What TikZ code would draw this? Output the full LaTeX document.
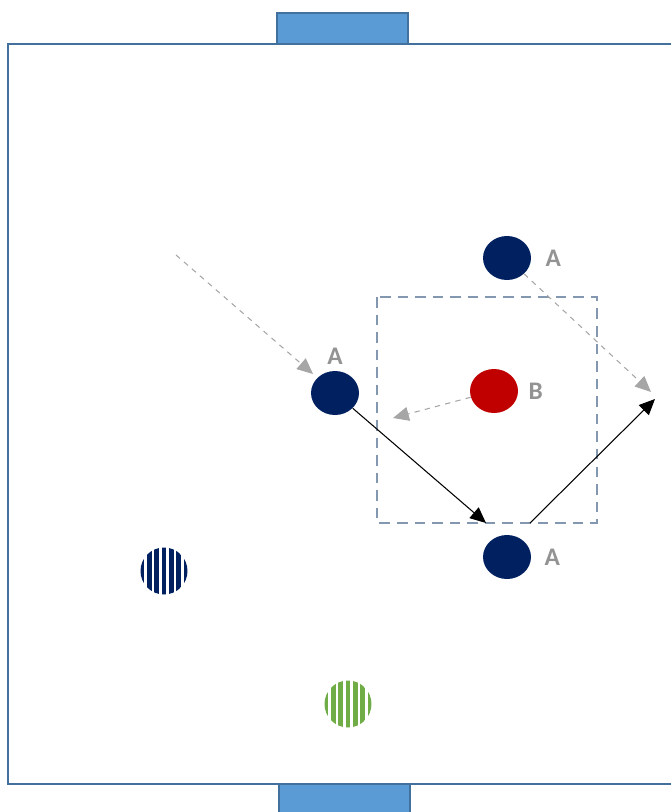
\documentclass[tikz,border=0pt]{standalone}
\usepackage{fontspec}
\setmainfont{Carlito}
\usetikzlibrary{shapes.geometric,arrows.meta,positioning,calc}
\definecolor{navy}{HTML}{002060}
\definecolor{redB}{HTML}{C00000}
\definecolor{fieldline}{HTML}{41719C}
\definecolor{goalfill}{HTML}{5B9BD5}
\definecolor{boxline}{HTML}{8497B0}
\definecolor{passgray}{HTML}{A6A6A6}
\definecolor{greenP}{HTML}{70AD47}

\begin{document}
\begin{tikzpicture}[x=0.02cm, y=-0.02cm,
    player/.style={ellipse, minimum width=0.96cm, minimum height=0.88cm, inner sep=0pt, fill=#1},
    striped/.style={circle, minimum size=0.94cm, inner sep=0pt,
        path picture={\foreach \k in {-3,...,3}
            \fill[#1] ($(path picture bounding box.center)+(\k*7.4-2.4,-30)$) rectangle ++(4.8,60);}},
    tag/.style={font=\bfseries\Large, text=gray!85},
    goal/.style={draw=fieldline, line width=1.3pt, fill=goalfill},
    move/.style={-{Triangle[length=9pt,width=8pt]}, line width=0.6pt},
    pass/.style={-{Triangle[length=9pt,width=8pt]}, dashed, passgray, line width=0.6pt}]
    \useasboundingbox (0,0) rectangle (671,812);

    % field and goals
    \draw [goal] (277,44) rectangle (408,13);
    \draw [goal] (279,784) rectangle (410,814);
    \draw [fieldline, line width=1.3pt] (671,44) -- (8,44) -- (8,784) -- (671,784);

    % zone
    \draw [boxline, dashed, line width=1pt, dash pattern=on 6pt off 4pt] (377,297) rectangle (597,523);

    % players
    \node [player=navy] (a1) at (507,258) {};
    \node [tag, right=0.16cm of a1] (ta1) {A};
    \node [player=navy] (a2) at (335,393) {};
    \node [tag, above=0.0cm of a2] (ta2) {A};
    \node [player=navy] (a3) at (507,557) {};
    \node [tag, right=0.14cm of a3] (ta3) {A};
    \node [player=redB] (b) at (494,391) {};
    \node [tag, right=0.08cm of b] (tb) {B};
    \node [striped=navy] (s1) at (164,571) {};
    \node [striped=greenP] (s2) at (348,704) {};

    % runs and passes
    \coordinate (p0) at (176,255);
    \coordinate (p1) at (313,374);
    \coordinate (p2) at (651,392);
    \coordinate (p3) at (393,418);
    \coordinate (p4) at (486,523);
    \coordinate (p5) at (530,523);
    \coordinate (p6) at (655,399);
    \draw [pass] (p0) -- (p1);
    \draw [pass] (a1) -- (p2);
    \draw [pass] (b) -- (p3);
    \draw [move] (a2) -- (p4);
    \draw [move] (p5) -- (p6);
\end{tikzpicture}
\end{document}
